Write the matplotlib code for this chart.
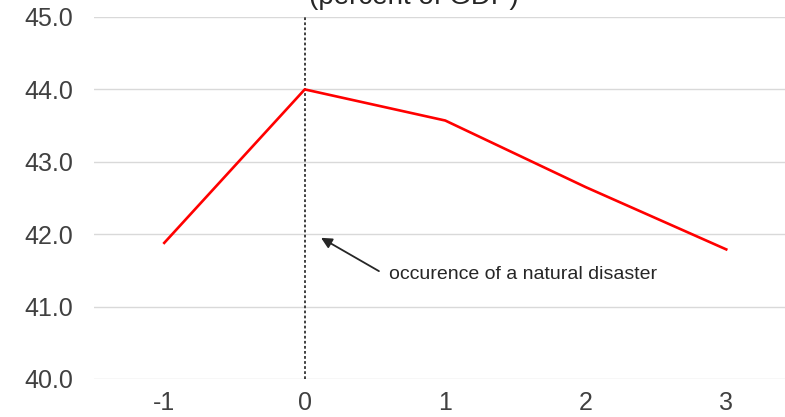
import matplotlib
matplotlib.use("Agg")
import matplotlib.pyplot as plt

plt.rcParams['font.family'] = ['Liberation Sans', 'DejaVu Sans']

# years relative to the disaster
years = ["-1", "0", "1", "2", "3"]
share = [41.88, 44.0, 43.57, 42.65, 41.79]
yticks = [40.0, 41.0, 42.0, 43.0, 44.0, 45.0]

W, H = 785, 417
fig = plt.figure(figsize=(W / 100, H / 100), dpi=100)
# plot area runs a bit past the right edge of the crop
ax = fig.add_axes([94 / W, 1 - 379 / H, 702.5 / W, (379 - 17) / H])

pos = list(range(len(years)))
ax.plot(pos, share, color="#ff0000", lw=1.9, zorder=3)

ax.set_xlim(-0.5, len(years) - 0.5)
ax.set_ylim(40, 45)
ax.set_yticks(yticks)
ax.set_yticklabels([f"{v:.1f}" for v in yticks])
ax.set_xticks(pos)
ax.set_xticklabels(years)
ax.grid(axis="y", color="#d9d9d9", lw=1.0)
ax.set_axisbelow(True)
for s in ax.spines.values():
    s.set_visible(False)
ax.tick_params(axis="y", length=0, pad=15, labelsize=18, labelcolor="#404040")
ax.tick_params(axis="x", length=0, pad=9, labelsize=18, labelcolor="#404040")

# disaster marker
ax.axvline(1, color="#404040", lw=1.4, ls=(0, (1.4, 1.2)), zorder=2)
ax.annotate("", xy=(1.116, 41.95), xytext=(1.528, 41.49),
            arrowprops=dict(arrowstyle="-|>", color="#262626", lw=1.3,
                            shrinkA=0, shrinkB=0, mutation_scale=16))
ax.text(1.6, 41.44, "occurence of a natural disaster", fontsize=14,
        color="#262626", va="center", ha="left")

fig.text(414 / W, 1 - 4 / H, "(percent of GDP)", ha="center", va="baseline",
         fontsize=20, color="#262626")

fig.savefig("out.png", dpi=100, facecolor="white")
